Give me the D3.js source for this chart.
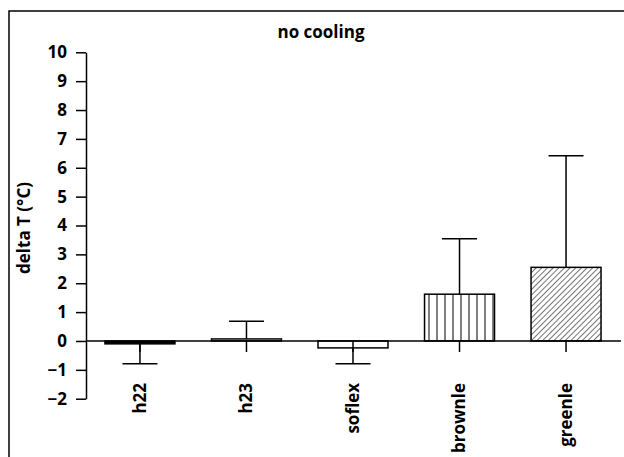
<!DOCTYPE html>
<html>
<head>
<meta charset="utf-8">
<script src="https://cdn.jsdelivr.net/npm/d3@7"></script>
<style>
  body { margin: 0; background: #fff; }
  text { font-family: "Open Sans", sans-serif; font-weight: bold; }
</style>
</head>
<body>
<div id="container"></div>
<script>
// data
const categories = ["h22", "h23", "soflex", "brownle", "greenle"];
const means = [-0.1, 0.07, -0.24, 1.62, 2.55];
const errors = [0.69, 0.61, 0.55, 1.92, 3.87];
const yTicks = [-2, -1, 0, 1, 2, 3, 4, 5, 6, 7, 8, 9, 10];
const fills = ["#000", "#fff", "#fff", "url(#vlines)", "url(#hatch)"];

const width = 624;
const height = 457;

const svg = d3.select("#container").append("svg")
    .attr("width", width)
    .attr("height", height);

// patterns for the last two bars
const defs = svg.append("defs");
const vl = defs.append("pattern")
    .attr("id", "vlines")
    .attr("patternUnits", "userSpaceOnUse")
    .attr("x", 428.5)
    .attr("width", 8)
    .attr("height", 8);
vl.append("rect").attr("width", 8).attr("height", 8).attr("fill", "#fff");
vl.append("line")
    .attr("x1", 0).attr("y1", 0).attr("x2", 0).attr("y2", 8)
    .attr("stroke", "#000").attr("stroke-width", 2);

const ht = defs.append("pattern")
    .attr("id", "hatch")
    .attr("patternUnits", "userSpaceOnUse")
    .attr("width", 4)
    .attr("height", 4)
    .attr("patternTransform", "rotate(45)");
ht.append("rect").attr("width", 4).attr("height", 4).attr("fill", "#fff");
ht.append("line")
    .attr("x1", 0).attr("y1", 0).attr("x2", 0).attr("y2", 4)
    .attr("stroke", "#000").attr("stroke-width", 1.1);

// outer frame (runs off the right and bottom of the picture)
svg.append("rect")
    .attr("x", 9)
    .attr("y", 11)
    .attr("width", 700)
    .attr("height", 500)
    .attr("fill", "none")
    .attr("stroke", "#000")
    .attr("stroke-width", 1.5);

const x = d3.scaleBand()
    .domain(categories)
    .range([86, 620])
    .paddingInner(0.343)
    .paddingOuter(0.178);

const y = d3.scaleLinear()
    .domain([-2, 10])
    .range([398.7, 52.3]);

// y axis
const yAxis = svg.append("g")
    .attr("transform", "translate(86,0)")
    .call(d3.axisLeft(y).tickValues(yTicks).tickSize(10).tickSizeOuter(0).tickPadding(9));
yAxis.selectAll("path, line").attr("stroke", "#000").attr("stroke-width", 1.5);
yAxis.selectAll("text")
    .attr("font-size", 17)
    .attr("font-family", "Open Sans, sans-serif")
    .attr("fill", "#000");

// bars
svg.selectAll(".bar")
  .data(categories)
  .join("rect")
    .attr("class", "bar")
    .attr("x", d => x(d))
    .attr("width", x.bandwidth())
    .attr("y", (d, i) => Math.min(y(means[i]), y(0)))
    .attr("height", (d, i) => Math.abs(y(means[i]) - y(0)))
    .attr("fill", (d, i) => fills[i])
    .attr("stroke", "#000")
    .attr("stroke-width", 1.5);

// error bars (one side only)
categories.forEach((c, i) => {
  const cx = x(c) + x.bandwidth() / 2;
  const end = means[i] + Math.sign(means[i]) * errors[i];
  svg.append("line")
      .attr("x1", cx).attr("x2", cx)
      .attr("y1", y(means[i])).attr("y2", y(end))
      .attr("stroke", "#000").attr("stroke-width", 1.5);
  svg.append("line")
      .attr("x1", cx - x.bandwidth() / 4).attr("x2", cx + x.bandwidth() / 4)
      .attr("y1", y(end)).attr("y2", y(end))
      .attr("stroke", "#000").attr("stroke-width", 1.5);
});

// x axis at zero
const xAxis = svg.append("g")
    .attr("transform", `translate(0,${y(0)})`)
    .call(d3.axisBottom(x).tickSize(11).tickSizeOuter(0));
xAxis.select(".domain").attr("d", "M86,0H621");
xAxis.selectAll("path, line").attr("stroke", "#000").attr("stroke-width", 1.5);
xAxis.selectAll("text")
    .attr("font-size", 17)
    .attr("font-family", "Open Sans, sans-serif")
    .attr("fill", "#000")
    .attr("text-anchor", "end")
    .attr("transform", "rotate(-90)")
    .attr("x", -42)
    .attr("y", 0)
    .attr("dy", "0.35em");

// title and axis label
svg.append("text")
    .attr("x", 321)
    .attr("y", 38)
    .attr("text-anchor", "middle")
    .attr("font-size", 17)
    .text("no cooling");

svg.append("text")
    .attr("transform", "translate(30,228) rotate(-90)")
    .attr("text-anchor", "middle")
    .attr("font-size", 17)
    .text("delta T (°C)");
</script>
</body>
</html>
